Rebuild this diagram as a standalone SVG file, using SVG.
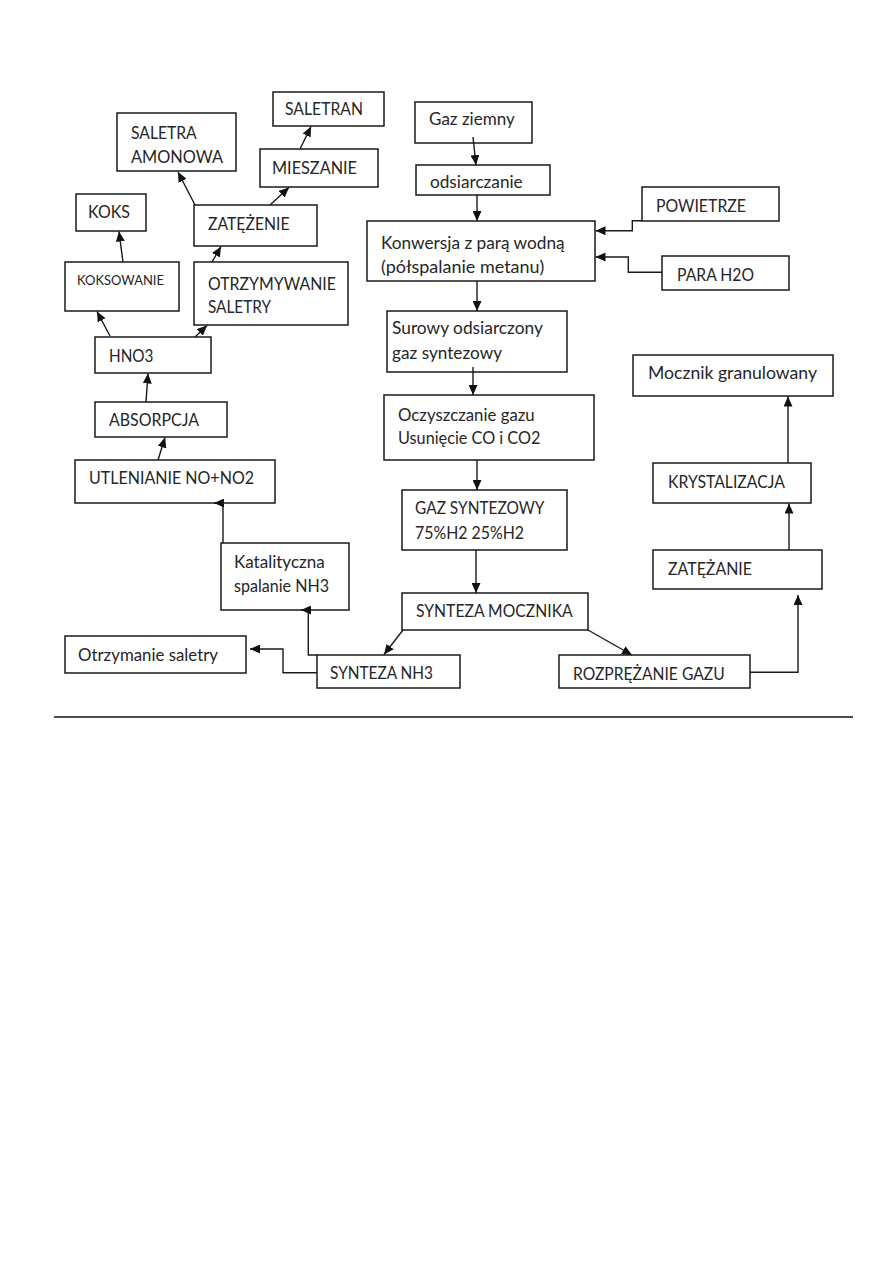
<svg xmlns="http://www.w3.org/2000/svg" width="893" height="1262" viewBox="0 0 893 1262">
<style>
rect.b{fill:#fff;stroke:#1a1a1a;stroke-width:1.5}
text{font-family:Lato,"Liberation Sans",sans-serif;font-size:18px;fill:#262626}
text.s{font-size:13.5px}
#connectors path{fill:none;stroke:#1a1a1a;stroke-width:1.4;marker-end:url(#ah)}
</style>
<defs>
<marker id="ah" markerUnits="userSpaceOnUse" markerWidth="11" markerHeight="9" refX="10" refY="4.5" orient="auto">
<path d="M0,0 L10,4.5 L0,9 z" fill="#111"/>
</marker>
</defs>
<rect width="893" height="1262" fill="#fff"/>
<g id="nodes">
<g id="saletran"><rect class="b" x="273" y="92" width="111" height="34"/><text x="285" y="114.5" textLength="78" lengthAdjust="spacingAndGlyphs">SALETRAN</text></g>
<g id="saletra_amonowa"><rect class="b" x="117" y="113" width="119" height="58"/><text x="131" y="138.5" textLength="65.7" lengthAdjust="spacingAndGlyphs">SALETRA</text><text x="131" y="162.5" textLength="92" lengthAdjust="spacingAndGlyphs">AMONOWA</text></g>
<g id="mieszanie"><rect class="b" x="260" y="149" width="118" height="38"/><text x="272" y="173.5" textLength="85" lengthAdjust="spacingAndGlyphs">MIESZANIE</text></g>
<g id="koks"><rect class="b" x="76" y="194" width="70" height="37"/><text x="88" y="217.5" textLength="42" lengthAdjust="spacingAndGlyphs">KOKS</text></g>
<g id="zatezenie"><rect class="b" x="194" y="205" width="123" height="41"/><text x="208" y="229.5" textLength="81.5" lengthAdjust="spacingAndGlyphs">ZATĘŻENIE</text></g>
<g id="koksowanie"><rect class="b" x="65" y="262" width="114" height="49"/><text class="s" x="77" y="284.5" textLength="87" lengthAdjust="spacingAndGlyphs">KOKSOWANIE</text></g>
<g id="otrzymywanie_saletry"><rect class="b" x="194" y="262" width="154" height="63"/><text x="208" y="289.5" textLength="128" lengthAdjust="spacingAndGlyphs">OTRZYMYWANIE</text><text x="208" y="312.5" textLength="63" lengthAdjust="spacingAndGlyphs">SALETRY</text></g>
<g id="hno3"><rect class="b" x="95" y="337" width="116" height="36"/><text x="109" y="361.5" textLength="44.5" lengthAdjust="spacingAndGlyphs">HNO3</text></g>
<g id="absorpcja"><rect class="b" x="95" y="402" width="132" height="35"/><text x="109" y="425.5" textLength="90" lengthAdjust="spacingAndGlyphs">ABSORPCJA</text></g>
<g id="utlenianie"><rect class="b" x="75" y="460" width="200" height="43"/><text x="89" y="484" textLength="165" lengthAdjust="spacingAndGlyphs">UTLENIANIE NO+NO2</text></g>
<g id="katalityczna"><rect class="b" x="221" y="543" width="128" height="67"/><text x="234" y="567.5" textLength="90.7" lengthAdjust="spacingAndGlyphs">Katalityczna</text><text x="234" y="591.5" textLength="95" lengthAdjust="spacingAndGlyphs">spalanie NH3</text></g>
<g id="otrzymanie_saletry"><rect class="b" x="65" y="636" width="181" height="37"/><text x="78" y="660.5" textLength="140" lengthAdjust="spacingAndGlyphs">Otrzymanie saletry</text></g>
<g id="synteza_nh3"><rect class="b" x="317" y="655" width="143" height="33"/><text x="330" y="679" textLength="103" lengthAdjust="spacingAndGlyphs">SYNTEZA NH3</text></g>
<g id="synteza_mocznika"><rect class="b" x="402" y="593" width="186" height="37"/><text x="416" y="616.5" textLength="156.7" lengthAdjust="spacingAndGlyphs">SYNTEZA MOCZNIKA</text></g>
<g id="rozprezanie_gazu"><rect class="b" x="559" y="655" width="191" height="33"/><text x="573" y="679.5" textLength="151.7" lengthAdjust="spacingAndGlyphs">ROZPRĘŻANIE GAZU</text></g>
<g id="zatezanie"><rect class="b" x="653" y="550" width="169" height="39"/><text x="668" y="574.5" textLength="84" lengthAdjust="spacingAndGlyphs">ZATĘŻANIE</text></g>
<g id="krystalizacja"><rect class="b" x="653" y="463" width="158" height="40"/><text x="668" y="487.5" textLength="117" lengthAdjust="spacingAndGlyphs">KRYSTALIZACJA</text></g>
<g id="mocznik_granulowany"><rect class="b" x="633" y="355" width="200" height="41"/><text x="648" y="379" textLength="169" lengthAdjust="spacingAndGlyphs">Mocznik granulowany</text></g>
<g id="powietrze"><rect class="b" x="642" y="187" width="137" height="34"/><text x="656" y="212" textLength="90" lengthAdjust="spacingAndGlyphs">POWIETRZE</text></g>
<g id="para_h2o"><rect class="b" x="662" y="256" width="127" height="34"/><text x="677" y="280.5" textLength="77" lengthAdjust="spacingAndGlyphs">PARA H2O</text></g>
<g id="gaz_ziemny"><rect class="b" x="415" y="102" width="117" height="41"/><text x="429" y="125" textLength="85.7" lengthAdjust="spacingAndGlyphs">Gaz ziemny</text></g>
<g id="odsiarczanie"><rect class="b" x="416" y="165" width="134" height="30"/><text x="430" y="187.5" textLength="92.7" lengthAdjust="spacingAndGlyphs">odsiarczanie</text></g>
<g id="konwersja"><rect class="b" x="367" y="221" width="228" height="60"/><text x="381" y="249" textLength="183.6" lengthAdjust="spacingAndGlyphs">Konwersja z parą wodną</text><text x="381" y="273" textLength="163.3" lengthAdjust="spacingAndGlyphs">(półspalanie metanu)</text></g>
<g id="surowy_gaz"><rect class="b" x="387" y="311" width="180" height="61"/><text x="392" y="334" textLength="151" lengthAdjust="spacingAndGlyphs">Surowy odsiarczony</text><text x="392" y="358.5" textLength="110" lengthAdjust="spacingAndGlyphs">gaz syntezowy</text></g>
<g id="oczyszczanie"><rect class="b" x="384" y="395" width="210" height="65"/><text x="398" y="420.5" textLength="136.7" lengthAdjust="spacingAndGlyphs">Oczyszczanie gazu</text><text x="398" y="443.5" textLength="142.4" lengthAdjust="spacingAndGlyphs">Usunięcie CO i CO2</text></g>
<g id="gaz_syntezowy"><rect class="b" x="402" y="490" width="165" height="60"/><text x="415" y="514" textLength="129.3" lengthAdjust="spacingAndGlyphs">GAZ SYNTEZOWY</text><text x="415" y="539" textLength="109" lengthAdjust="spacingAndGlyphs">75%H2 25%H2</text></g>
</g>
<g id="connectors">
<path d="M123,262 L119,231.5"/>
<path d="M195,205 L178,172"/>
<path d="M270,205 L289,187.5"/>
<path d="M300,149 L311,126.5"/>
<path d="M212,262 L221,246.5"/>
<path d="M110,336 L97,311.5"/>
<path d="M195,337 L207,325.5"/>
<path d="M146,402 L148,373.5"/>
<path d="M158,460 L165,437.5"/>
<path d="M223,543 V503 H214"/>
<path d="M317,655 H308.3 V610 H301"/>
<path d="M317,672.7 H283 V649 H250"/>
<path d="M403,630 L384,654.5"/>
<path d="M588,630 L632,655"/>
<path d="M750,672.3 H798 V595"/>
<path d="M789,550 V503.5"/>
<path d="M788,463 V396.5"/>
<path d="M642,220.7 H632.3 V230.7 H595.5"/>
<path d="M662,272.3 H628.3 V257 H595.5"/>
<path d="M473,137 L476,165"/>
<path d="M477,195 V221"/>
<path d="M477,281 V311"/>
<path d="M473,367 V395"/>
<path d="M477,460 V490"/>
<path d="M476,550 V593"/>
</g>
<line x1="54" y1="717" x2="853" y2="717" stroke="#111" stroke-width="1.5"/>
</svg>
